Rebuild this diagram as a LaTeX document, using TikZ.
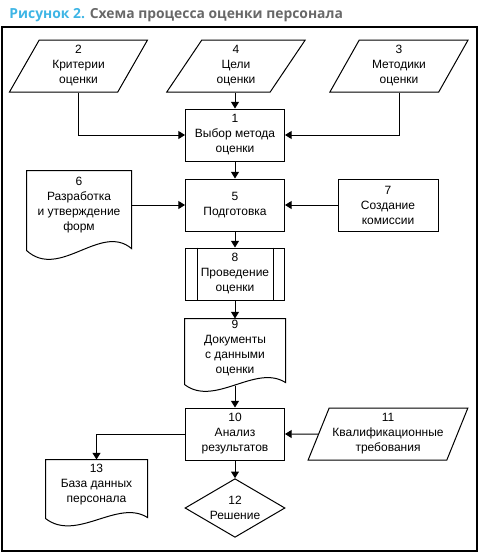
\documentclass[tikz,border=0pt]{standalone}
\usepackage{fontspec}
\setmainfont{Liberation Sans}
\newfontfamily\titlefont{Open Sans}
\usetikzlibrary{shapes.geometric,arrows.meta,calc}
\definecolor{titleblue}{RGB}{62,181,229}
\definecolor{titlegray}{RGB}{104,104,104}

\begin{document}
\begin{tikzpicture}[x=0.75pt,y=0.75pt,line width=0.75pt,
        txt/.style={align=center,font=\fontsize{9pt}{11.25pt}\selectfont,inner sep=0pt},
        box/.style={txt,draw,minimum width=74.25pt,minimum height=39pt},
        datain/.style={txt,draw,trapezium,trapezium left angle=64,trapezium right angle=116,
            trapezium stretches=true,minimum width=104pt,minimum height=39pt},
        doc/.style={txt,minimum width=75pt},
        flow/.style={-{Triangle[length=5pt,width=6pt]}}]
        \useasboundingbox (0,0) rectangle (480,-553);
        \node[anchor=base west,inner sep=0pt,font=\titlefont\bfseries\fontsize{10.4pt}{12pt}\selectfont] (title) at (9,-18)
            {\textcolor{titleblue}{Рисунок 2.} \textcolor{titlegray}{Схема процесса оценки персонала}};
        \draw[line width=1pt] (2,-27) rectangle (477,-551);
        % входы
        \node[datain] (krit) at (78.5,-66) {2\\Критерии\\оценки};
        \node[datain] (celi) at (236,-66) {4\\Цели\\оценки};
        \node[datain] (metod) at (399,-66) {3\\Методики\\оценки};
        \node[box] (vybor) at (235,-135) {1\\Выбор метода\\оценки};
        % подготовка
        \node[box] (podg) at (235,-205) {5\\Подготовка};
        \node[doc,minimum width=78pt,minimum height=51pt] (razr) at (79,-205) {6\\Разработка\\и утверждение\\форм};
        \node[box,minimum width=75pt] (komis) at (388,-205) {7\\Создание\\комиссии};
        \node[box] (provod) at (235,-274) {8\\Проведение\\оценки};
        \node[doc,minimum height=43.5pt] (dokum) at (235,-348) {9\\Документы\\с данными\\оценки};
        % анализ
        \node[box] (analiz) at (235,-434) {10\\Анализ\\результатов};
        \node[datain,minimum width=120pt] (kval) at (388,-434) {11\\Квалификационные\\требования};
        \node[doc,minimum width=75.75pt,minimum height=37.5pt] (baza) at (96.5,-485) {13\\База данных\\персонала};
        \node[txt,draw,diamond,aspect=1.7,minimum width=75pt,minimum height=44pt] (resh) at (235,-508) {12\\Решение};
        % рамки документов
        \draw (razr.north west) -- (razr.north east) -- ($(razr.south east)+(0,-9)$)
            .. controls ($(razr.south east)+(-31,17)$) and ($(razr.south west)+(33,-41)$) .. ($(razr.south west)+(0,-11)$) -- cycle;
        \draw (dokum.north west) -- (dokum.north east) -- ($(dokum.south east)+(0,-5)$)
            .. controls ($(dokum.south east)+(-30,14)$) and ($(dokum.south west)+(30,-30)$) .. ($(dokum.south west)+(0,-7)$) -- cycle;
        \draw (baza.north west) -- (baza.north east) -- ($(baza.south east)+(0,-7)$)
            .. controls ($(baza.south east)+(-30,12)$) and ($(baza.south west)+(31,-32)$) .. ($(baza.south west)+(0,-8)$) -- cycle;
        \draw ([xshift=9pt]provod.north west) -- ([xshift=9pt]provod.south west);
        \draw ([xshift=-9pt]provod.north east) -- ([xshift=-9pt]provod.south east);
        % связи
        \draw[flow] (krit.center |- krit.south) |- (vybor.west);
        \draw[flow] (metod.center |- metod.south) |- (vybor.east);
        \draw[flow] (vybor.north |- celi.south) -- (vybor.north);
        \draw[flow] (vybor.south) -- (podg.north);
        \draw[flow] (razr.east) -- (podg.west);
        \draw[flow] (komis.west) -- (podg.east);
        \draw[flow] (podg.south) -- (provod.north);
        \draw[flow] (provod.south) -- (dokum.north);
        \draw[flow] ([yshift=-6pt]dokum.south) -- (analiz.north);
        \draw[flow] (kval.west) -- (analiz.east);
        \draw[flow] (analiz.west) -| (baza.north);
        \draw[flow] (analiz.south) -- (resh.north);
    \end{tikzpicture}
\end{document}
